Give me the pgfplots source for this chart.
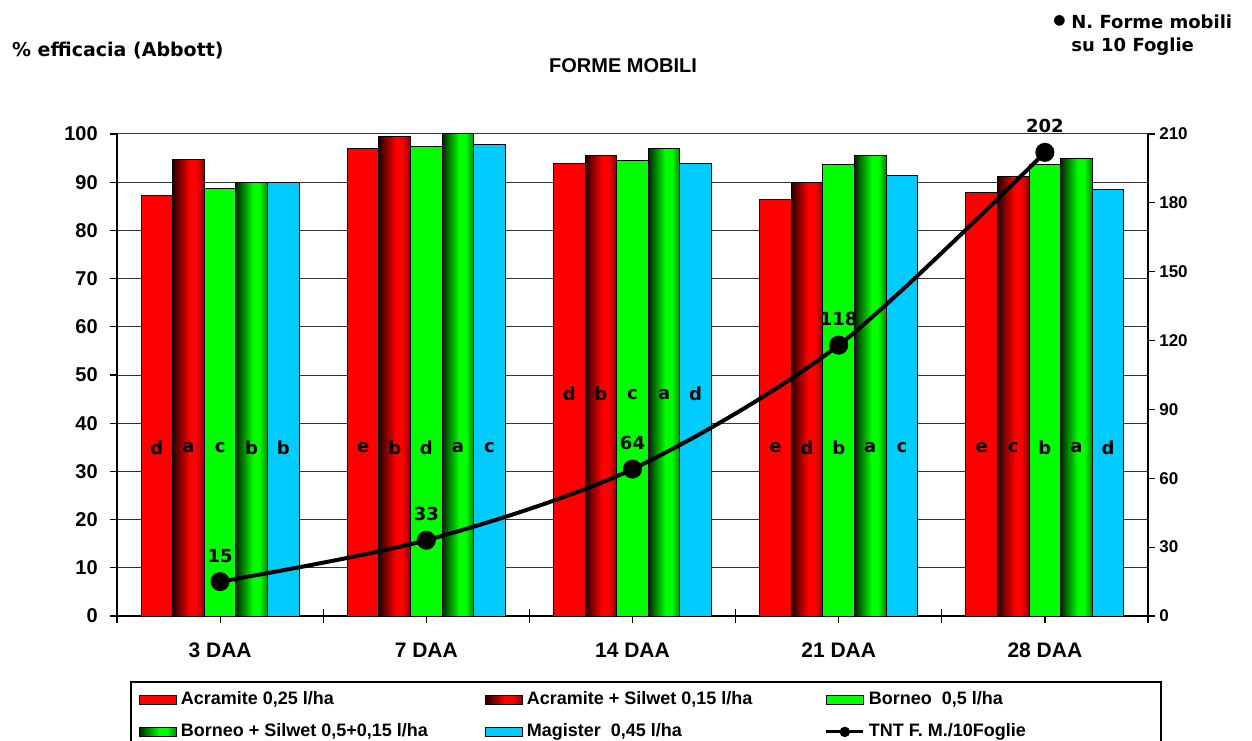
\documentclass[border=0pt]{standalone}
\usepackage{pgfplots}
\pgfplotsset{compat=1.18}
\usepackage{fontspec}
\setmainfont{Liberation Sans}
\newfontfamily\comic{DejaVu Sans}
\definecolor{cRed}{HTML}{FF0000}
\definecolor{cGreen}{HTML}{00FF00}
\definecolor{cCyan}{HTML}{00CCFF}
\colorlet{rA}{cRed!15!black}
\colorlet{rB}{cRed!55!black}
\colorlet{gA}{cGreen!15!black}
\colorlet{gB}{cGreen!55!black}
\pgfdeclarehorizontalshading{redcyl}{100bp}{color(0bp)=(rA); color(25bp)=(rA); color(52bp)=(cRed); color(62bp)=(cRed); color(75bp)=(rB); color(100bp)=(rB)}
\pgfdeclarehorizontalshading{greencyl}{100bp}{color(0bp)=(gA); color(25bp)=(gA); color(52bp)=(cGreen); color(62bp)=(cGreen); color(75bp)=(gB); color(100bp)=(gB)}
\pgfplotsset{
  /pgf/number format/assume math mode=true,
  barlegend/.style={legend image code/.code={\draw[##1] (0pt,-2.4pt) rectangle (18.5pt,2.4pt);}},
  linelegend/.style={legend image code/.code={\draw[black, line width=1.5pt] (0pt,0pt) -- (18.5pt,0pt); \fill[black] (9.25pt,0pt) circle (2.2pt);}},
  sA/.style={fill=cRed, draw=black, line width=0.5pt, barlegend, bar shift=-0.3064},
  sAS/.style={shade, shading=redcyl, draw=black, line width=0.5pt, barlegend, bar shift=-0.1532},
  sB/.style={fill=cGreen, draw=black, line width=0.5pt, barlegend, bar shift=0},
  sBS/.style={shade, shading=greencyl, draw=black, line width=0.5pt, barlegend, bar shift=0.1532},
  sM/.style={fill=cCyan, draw=black, line width=0.5pt, barlegend, bar shift=0.3064},
}
\newcommand{\lt}[1]{\makebox[150pt][l]{#1}}
\begin{document}
\begin{tikzpicture}
\useasboundingbox (0,0) rectangle (626pt,370pt);
\begin{axis}[
  at={(58.5pt,62pt)}, anchor=south west,
  scale only axis, width=515.5pt, height=241pt,
  ybar, bar width=0.1532,
  xmin=-0.5, xmax=4.5, enlarge x limits=false,
  ymin=0, ymax=100,
  axis x line=bottom, axis y line=left,
  axis line style={-, black, line width=0.6pt},
  xtick={-0.5,0.5,...,4.5}, xticklabels={},
  extra x ticks={0,1,2,3,4},
  extra x tick labels={3 DAA,7 DAA,14 DAA,21 DAA,28 DAA},
  extra x tick style={major tick length=0pt},
  xtick style={/pgfplots/major tick length=7pt, /pgfplots/tick align=center, black, line width=0.6pt},
  ytick={0,10,...,100},
  ytick style={/pgfplots/major tick length=3.5pt, /pgfplots/tick align=outside, black, line width=0.6pt},
  ymajorgrids, grid style={black!80, line width=0.5pt},
  ticklabel style={font=\bfseries\fontsize{10}{12}\selectfont},
  yticklabel style={xshift=-4pt},
  xticklabel style={font=\bfseries\fontsize{10.5}{12}\selectfont, yshift=-10pt},
  legend style={at={(axis description cs:0.0126,-0.1349)}, anchor=north west,
    draw=black, line width=0.8pt, font=\bfseries\fontsize{9}{10.8}\selectfont,
    inner xsep=4pt, inner ysep=3pt, column sep=0pt, row sep=4pt,
    nodes={inner sep=2pt}},
  legend columns=3, legend cell align=left,
]
\addplot[sA] coordinates {(0,87.3) (1,97.0) (2,93.9) (3,86.4) (4,87.9)};
\addlegendentry{\lt{Acramite 0,25 l/ha}}
\addplot[sAS] coordinates {(0,94.8)};
\addlegendentry{\makebox[147pt][l]{Acramite + Silwet 0,15 l/ha}}
\addplot[sAS, forget plot] coordinates {(1,99.5)};
\addplot[sAS, forget plot] coordinates {(2,95.6)};
\addplot[sAS, forget plot] coordinates {(3,90.0)};
\addplot[sAS, forget plot] coordinates {(4,91.1)};
\addplot[sB] coordinates {(0,88.7) (1,97.5) (2,94.5) (3,93.6) (4,93.6)};
\addlegendentry{\makebox[140pt][l]{Borneo~~0,5 l/ha}}
\addplot[sBS] coordinates {(0,90.0)};
\addlegendentry{\lt{Borneo + Silwet 0,5+0,15 l/ha}}
\addplot[sBS, forget plot] coordinates {(1,100.0)};
\addplot[sBS, forget plot] coordinates {(2,97.0)};
\addplot[sBS, forget plot] coordinates {(3,95.6)};
\addplot[sBS, forget plot] coordinates {(4,95.0)};
\addplot[sM] coordinates {(0,90.0) (1,97.9) (2,93.9) (3,91.4) (4,88.4)};
\addlegendentry{\makebox[147pt][l]{Magister~~0,45 l/ha}}
\addlegendimage{linelegend}
\addlegendentry{\makebox[140pt][l]{TNT F. M./10Foglie}}
% significance letters
\begin{scope}[every node/.style={font=\comic\bfseries\fontsize{9}{10}\selectfont}]
\node at (axis cs:-0.3064,35) {d}; \node at (axis cs:-0.1532,35) {a}; \node at (axis cs:0,35) {c}; \node at (axis cs:0.1532,35) {b}; \node at (axis cs:0.3064,35) {b};
\node at (axis cs:0.6936,35) {e}; \node at (axis cs:0.8468,35) {b}; \node at (axis cs:1,35) {d}; \node at (axis cs:1.1532,35) {a}; \node at (axis cs:1.3064,35) {c};
\node at (axis cs:1.6936,46) {d}; \node at (axis cs:1.8468,46) {b}; \node at (axis cs:2,46) {c}; \node at (axis cs:2.1532,46) {a}; \node at (axis cs:2.3064,46) {d};
\node at (axis cs:2.6936,35) {e}; \node at (axis cs:2.8468,35) {d}; \node at (axis cs:3,35) {b}; \node at (axis cs:3.1532,35) {a}; \node at (axis cs:3.3064,35) {c};
\node at (axis cs:3.6936,35) {e}; \node at (axis cs:3.8468,35) {c}; \node at (axis cs:4,35) {b}; \node at (axis cs:4.1532,35) {a}; \node at (axis cs:4.3064,35) {d};
\end{scope}
\end{axis}
\begin{axis}[
  at={(58.5pt,62pt)}, anchor=south west,
  scale only axis, width=515.5pt, height=241pt,
  xmin=-0.5, xmax=4.5, ymin=0, ymax=210,
  axis x line=none, axis y line=right,
  axis line style={-, black, line width=0.6pt},
  ytick={0,30,...,210},
  ytick style={/pgfplots/major tick length=3.5pt, /pgfplots/tick align=outside, black, line width=0.6pt},
  yticklabel style={font=\bfseries\fontsize{8.5}{10}\selectfont},
  clip=false,
]
\addplot[black, line width=2pt, smooth, mark=*, mark size=3.75pt,
  nodes near coords, nodes near coords style={font=\comic\bfseries\fontsize{9}{10}\selectfont, anchor=center, yshift=13pt}]
  coordinates {(0,15) (1,33) (2,64) (3,118) (4,202)};
\end{axis}
\node[font=\bfseries\fontsize{10}{12}\selectfont] at (311.5pt,337pt) {FORME MOBILI};
\node[anchor=west, inner sep=0pt, font=\comic\bfseries\fontsize{9.5}{11}\selectfont] at (5.85pt,344.6pt) {\% efficacia (Abbott)};
\node[anchor=east, inner sep=0pt, font=\comic\fontsize{7}{7}\selectfont] at (533pt,359.5pt) {●};
\node[anchor=west, inner sep=0pt, font=\comic\bfseries\fontsize{9}{11}\selectfont] at (535.5pt,359pt) {N. Forme mobili};
\node[anchor=west, inner sep=0pt, font=\comic\bfseries\fontsize{9}{11}\selectfont] at (535.5pt,346.6pt) {su 10 Foglie};
\end{tikzpicture}
\end{document}
